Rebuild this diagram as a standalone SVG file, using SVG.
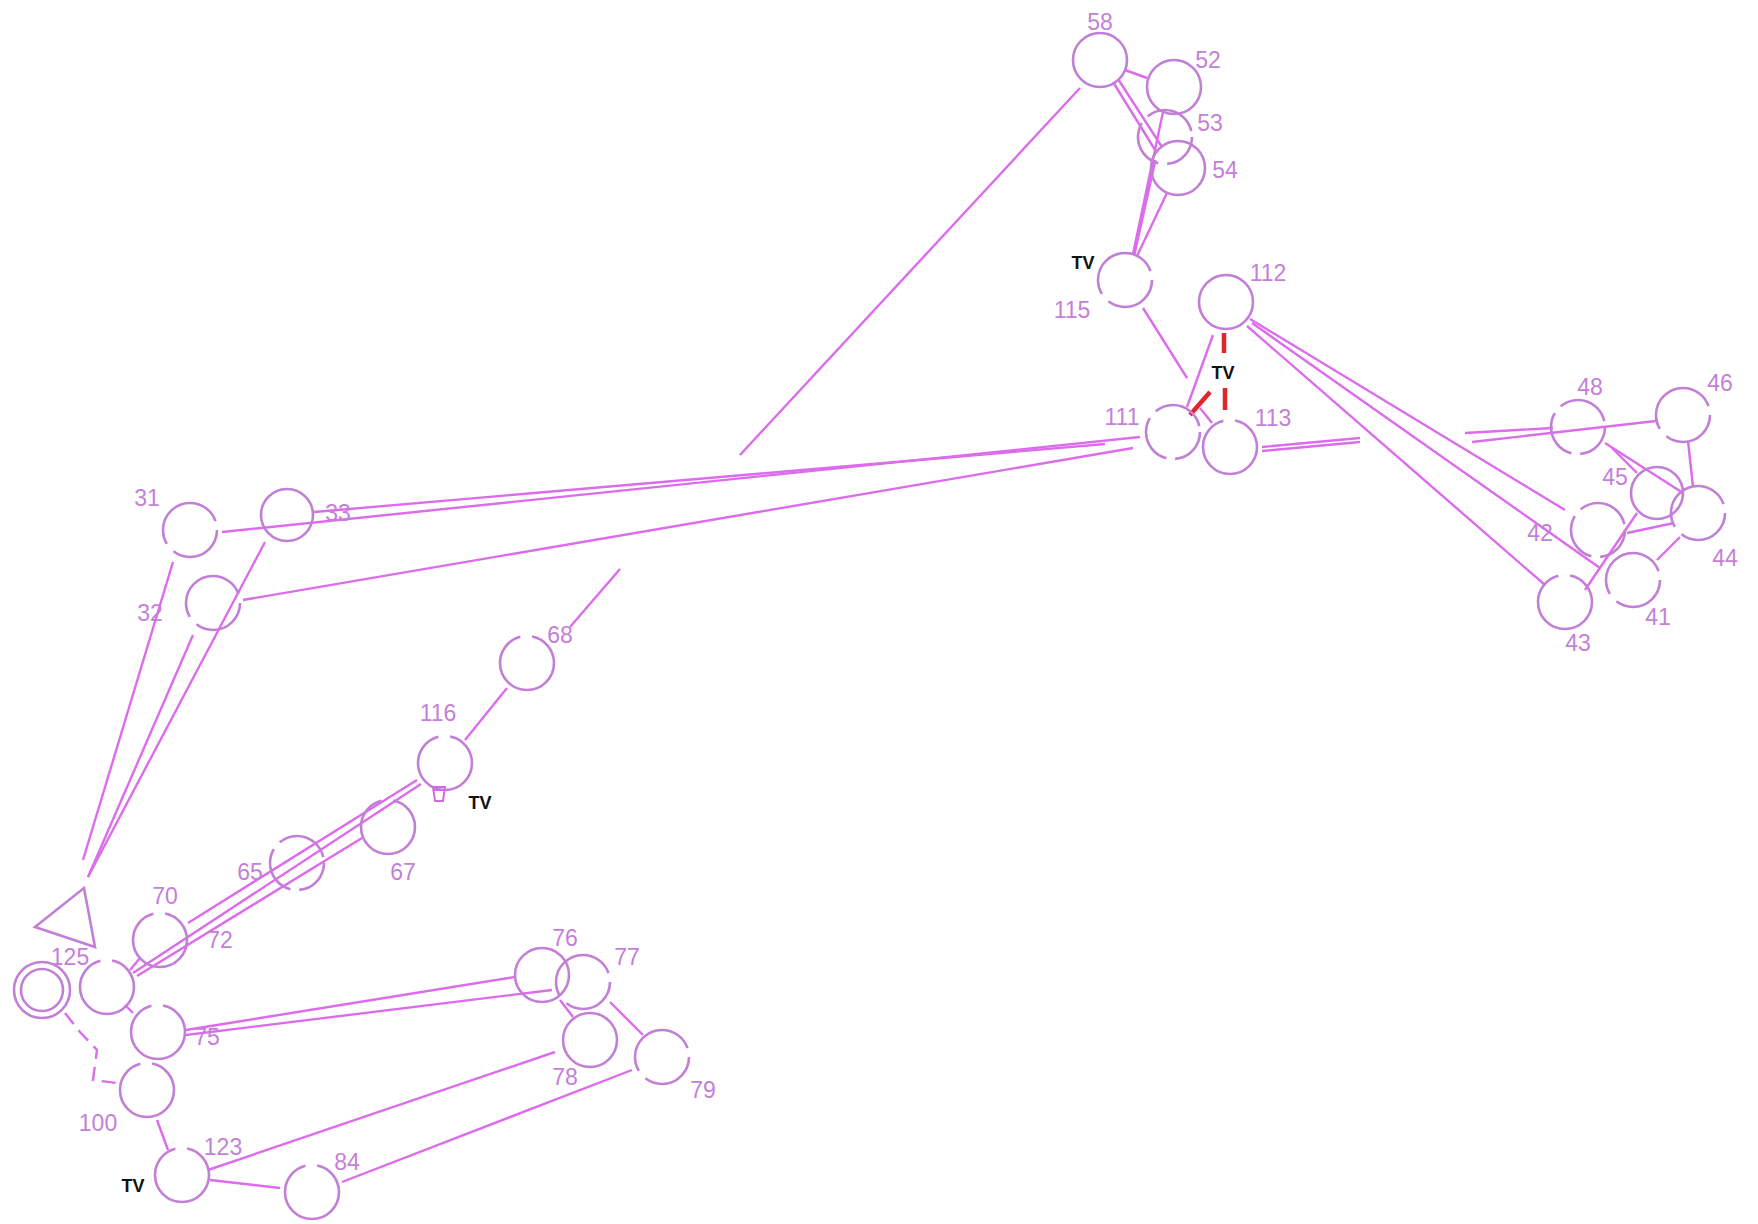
<svg xmlns="http://www.w3.org/2000/svg" width="1758" height="1224" viewBox="0 0 1758 1224">
<style>
.n{fill:none;stroke:#c27fd6;stroke-width:2.6}
.g1{stroke-dasharray:60 10 90 10}
.g2{stroke-dasharray:40 9 50 9 55 9}
.g3{stroke-dasharray:120 12}
.c line,.c polyline{stroke:#dc6cec;stroke-width:2.4;fill:none}
.c line.red{stroke:#e0262a;stroke-width:4.5}
.lb{font-family:"Liberation Sans",Arial,sans-serif;font-size:23px;fill:#c47fd8;text-anchor:middle}
.tv{font-family:"Liberation Sans",Arial,sans-serif;font-size:18px;font-weight:bold;fill:#111;text-anchor:middle}
</style>
<rect width="1758" height="1224" fill="#fff"/>
<g class="c" id="connectors">
<line x1="1080" y1="88" x2="740" y2="455"/>
<line x1="1125" y1="70" x2="1147" y2="78"/>
<line x1="1113" y1="82" x2="1157" y2="153"/>
<line x1="1118" y1="79" x2="1162" y2="147"/>
<line x1="1163" y1="112" x2="1133" y2="254"/>
<line x1="1155" y1="160" x2="1134" y2="254" style="stroke-width:3.4"/>
<line x1="1167" y1="193" x2="1137" y2="256"/>
<line x1="1143" y1="308" x2="1187" y2="378"/>
<line x1="1213" y1="335" x2="1187" y2="407"/>
<line x1="1200" y1="408" x2="1212" y2="423"/>
<line x1="222" y1="532" x2="1140" y2="437"/>
<line x1="314" y1="512" x2="1105" y2="444"/>
<line x1="243" y1="600" x2="1133" y2="448"/>
<line x1="1262" y1="447" x2="1360" y2="438"/>
<line x1="1262" y1="451" x2="1360" y2="442"/>
<line x1="1465" y1="433" x2="1553" y2="428"/>
<line x1="1656" y1="421" x2="1472" y2="442"/>
<line x1="1250" y1="319" x2="1565" y2="510"/>
<line x1="1252" y1="323" x2="1600" y2="568"/>
<line x1="1247" y1="326" x2="1545" y2="585"/>
<line x1="1605" y1="443" x2="1683" y2="493"/>
<line x1="1612" y1="448" x2="1637" y2="473"/>
<line x1="1688" y1="441" x2="1693" y2="487"/>
<line x1="1585" y1="590" x2="1637" y2="513"/>
<line x1="1627" y1="533" x2="1674" y2="523"/>
<line x1="1657" y1="560" x2="1680" y2="537"/>
<line x1="173" y1="562" x2="83" y2="860"/>
<line x1="193" y1="635" x2="88" y2="877"/>
<line x1="265" y1="542" x2="88" y2="877"/>
<line x1="570" y1="627" x2="620" y2="569"/>
<line x1="465" y1="740" x2="507" y2="688"/>
<line x1="188" y1="923" x2="417" y2="780"/>
<line x1="133" y1="973" x2="421" y2="784"/>
<line x1="137" y1="976" x2="362" y2="838"/>
<line x1="130" y1="970" x2="140" y2="958"/>
<line x1="125" y1="1005" x2="133" y2="1013"/>
<line x1="186" y1="1030" x2="515" y2="977"/>
<line x1="186" y1="1035" x2="552" y2="990"/>
<line x1="560" y1="1000" x2="573" y2="1017"/>
<line x1="610" y1="1002" x2="643" y2="1035"/>
<line x1="208" y1="1170" x2="555" y2="1052"/>
<line x1="210" y1="1180" x2="280" y2="1188"/>
<line x1="342" y1="1182" x2="632" y2="1070"/>
<line x1="157" y1="1120" x2="168" y2="1150"/>
<polyline points="65,1013 80,1032 97,1050 93,1080 117,1083" style="stroke-dasharray:14 8"/>
<line class="red" x1="1224" y1="333" x2="1224" y2="353"/>
<line class="red" x1="1225" y1="388" x2="1225" y2="410"/>
<line class="red" x1="1190" y1="415" x2="1210" y2="392"/>
</g>
<g id="n58"><circle class="n" cx="1100" cy="60" r="27"/><text class="lb" x="1100" y="30">58</text></g>
<g id="n52"><circle class="n" cx="1174" cy="87" r="27"/><text class="lb" x="1208" y="68">52</text></g>
<g id="n53"><circle class="n g2" cx="1165" cy="137" r="27"/><text class="lb" x="1210" y="131">53</text></g>
<g id="n54"><circle class="n" cx="1178" cy="168" r="27"/><text class="lb" x="1225" y="178">54</text></g>
<g id="n115"><circle class="n g1" cx="1125" cy="280" r="27"/><text class="lb" x="1072" y="318">115</text><text class="tv" x="1083" y="269">TV</text></g>
<g id="n112"><circle class="n" cx="1226" cy="302" r="27"/><text class="lb" x="1268" y="281">112</text></g>
<g id="n111"><circle class="n g2" cx="1173" cy="432" r="27"/><text class="lb" x="1122" y="425">111</text><text class="tv" x="1223" y="379">TV</text></g>
<g id="n113"><circle class="n g3" cx="1230" cy="447" r="27"/><text class="lb" x="1273" y="426">113</text></g>
<g id="n48"><circle class="n g2" cx="1578" cy="427" r="27"/><text class="lb" x="1590" y="395">48</text></g>
<g id="n46"><circle class="n g1" cx="1683" cy="415" r="27"/><text class="lb" x="1720" y="391">46</text></g>
<g id="n45"><circle class="n" cx="1657" cy="493" r="26"/><text class="lb" x="1615" y="485">45</text></g>
<g id="n44"><circle class="n g1" cx="1698" cy="513" r="27"/><text class="lb" x="1725" y="566">44</text></g>
<g id="n42"><circle class="n g2" cx="1598" cy="530" r="27"/><text class="lb" x="1540" y="541">42</text></g>
<g id="n41"><circle class="n g1" cx="1633" cy="580" r="27"/><text class="lb" x="1658" y="625">41</text></g>
<g id="n43"><circle class="n g3" cx="1565" cy="602" r="27"/><text class="lb" x="1578" y="651">43</text></g>
<g id="n31"><circle class="n g1" cx="190" cy="530" r="27"/><text class="lb" x="147" y="506">31</text></g>
<g id="n33"><circle class="n" cx="287" cy="515" r="26"/><text class="lb" x="338" y="521">33</text></g>
<g id="n32"><circle class="n g1" cx="213" cy="603" r="27"/><text class="lb" x="150" y="621">32</text></g>
<g id="n68"><circle class="n g3" cx="527" cy="663" r="27"/><text class="lb" x="560" y="643">68</text></g>
<g id="n116"><circle class="n g3" cx="445" cy="763" r="27"/><text class="lb" x="438" y="721">116</text><path d="M433,787 h12 l-2,14 h-8 z M433,790 h12" fill="none" stroke="#d06ce0" stroke-width="2"/><text class="tv" x="480" y="809">TV</text></g>
<g id="n67"><circle class="n g3" cx="388" cy="827" r="27"/><text class="lb" x="403" y="880">67</text></g>
<g id="n65"><circle class="n g2" cx="297" cy="863" r="27"/><text class="lb" x="250" y="880">65</text></g>
<g id="n70"><circle class="n g3" cx="160" cy="940" r="27"/><text class="lb" x="165" y="904">70</text><text class="lb" x="220" y="948">72</text></g>
<g id="n125"><circle class="n g3" cx="107" cy="987" r="27"/><text class="lb" x="70" y="965">125</text></g>
<g id="tri"><polygon class="n" points="35,927 84,888 95,947"/></g>
<g id="dbl"><circle class="n" cx="42" cy="990" r="28"/><circle class="n" cx="42" cy="990" r="21"/></g>
<g id="n75"><circle class="n g3" cx="158" cy="1032" r="27"/><text class="lb" x="207" y="1045">75</text></g>
<g id="n100"><circle class="n g3" cx="147" cy="1090" r="27"/><text class="lb" x="98" y="1131">100</text></g>
<g id="n123"><circle class="n g3" cx="182" cy="1175" r="27"/><text class="lb" x="223" y="1155">123</text><text class="tv" x="133" y="1192">TV</text></g>
<g id="n84"><circle class="n g3" cx="312" cy="1192" r="27"/><text class="lb" x="347" y="1170">84</text></g>
<g id="n76"><circle class="n" cx="542" cy="975" r="27"/><text class="lb" x="565" y="946">76</text></g>
<g id="n77"><circle class="n g1" cx="583" cy="982" r="27"/><text class="lb" x="627" y="965">77</text></g>
<g id="n78"><circle class="n" cx="590" cy="1040" r="27"/><text class="lb" x="565" y="1085">78</text></g>
<g id="n79"><circle class="n g1" cx="662" cy="1057" r="27"/><text class="lb" x="703" y="1098">79</text></g>
</svg>
